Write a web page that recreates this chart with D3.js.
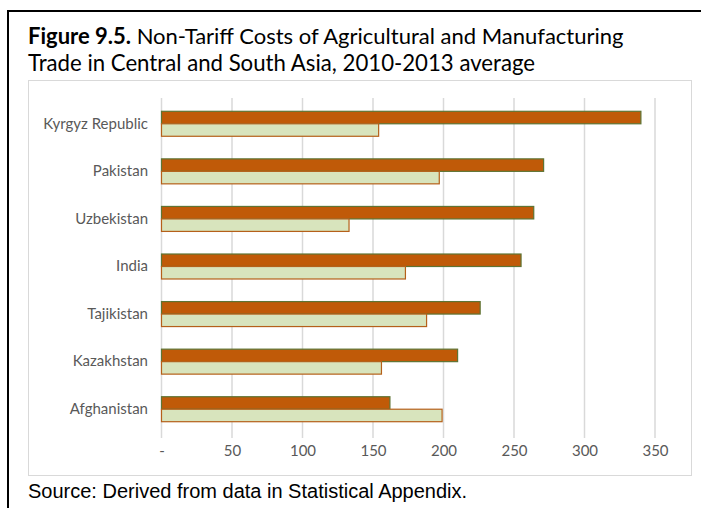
<!DOCTYPE html>
<html>
<head>
<meta charset="utf-8">
<script src="https://cdn.jsdelivr.net/npm/d3@7"></script>
<style>
  html, body { margin: 0; padding: 0; background: #fff; }
  svg { display: block; }
</style>
</head>
<body>
<svg id="chart" width="701" height="508"></svg>
<script>
// Countries, listed top to bottom
const countries = ["Kyrgyz Republic", "Pakistan", "Uzbekistan", "India", "Tajikistan", "Kazakhstan", "Afghanistan"];
// Non-tariff costs (ad valorem equivalent, %), upper bar of each pair
const agricultural = [340, 271, 264, 255, 226, 210, 162];
// Non-tariff costs, lower bar of each pair
const manufacturing = [154, 197, 133, 173, 188, 156, 199];
// Value axis ticks
const tickValues = [0, 50, 100, 150, 200, 250, 300, 350];

const svg = d3.select("#chart");
const W = 701, H = 508;
const labelFont = "Lato, 'Open Sans', sans-serif";

// Outer figure frame (top and left rules)
svg.append("path")
  .attr("d", `M8,${H} L8,11 L${W},11`)
  .attr("fill", "none")
  .attr("stroke", "#000")
  .attr("stroke-width", 2);

// Title
const title = svg.append("text")
  .attr("x", 28).attr("y", 44)
  .attr("font-family", labelFont)
  .attr("font-size", 22)
  .attr("fill", "#000");
title.append("tspan").attr("font-weight", "bold").text("Figure 9.5.");
title.append("tspan").text(" Non-Tariff Costs of Agricultural and Manufacturing");
svg.append("text")
  .attr("x", 28).attr("y", 71)
  .attr("font-family", labelFont)
  .attr("font-size", 22.2)
  .attr("fill", "#000")
  .text("Trade in Central and South Asia, 2010-2013 average");

// Plot area box
svg.append("rect")
  .attr("x", 28.5).attr("y", 80.5)
  .attr("width", 663).attr("height", 395)
  .attr("fill", "#fff")
  .attr("stroke", "#d9d9d9")
  .attr("stroke-width", 1);

// Scales
const x = d3.scaleLinear().domain([0, 350]).range([161.5, 655]);
const y = d3.scaleBand().domain(countries).range([100, 433])
  .paddingInner(0.475).paddingOuter(0.2375);
const barH = y.bandwidth() / 2;

// Vertical gridlines
svg.append("g")
  .selectAll("line")
  .data(tickValues)
  .join("line")
  .attr("x1", d => x(d)).attr("x2", d => x(d))
  .attr("y1", 98).attr("y2", 438)
  .attr("stroke", "#d9d9d9")
  .attr("stroke-width", 1.5);

// Value axis labels
const xAxis = d3.axisBottom(x)
  .tickValues(tickValues)
  .tickSize(0)
  .tickPadding(0)
  .tickFormat(d => d === 0 ? "-" : d3.format("d")(d));
const gx = svg.append("g")
  .attr("transform", "translate(0,445)")
  .call(xAxis);
gx.select(".domain").remove();
gx.selectAll("text")
  .attr("font-family", labelFont)
  .attr("font-size", 15)
  .attr("fill", "#595959")
  .attr("dy", "0.71em");

// Category labels
const yAxis = d3.axisLeft(y).tickSize(0).tickPadding(0);
const gy = svg.append("g")
  .attr("transform", "translate(148,0)")
  .call(yAxis);
gy.select(".domain").remove();
gy.selectAll("text")
  .attr("font-family", labelFont)
  .attr("font-size", 15)
  .attr("fill", "#595959");

// Bars
const rows = countries.map((c, i) => ({ c, a: agricultural[i], m: manufacturing[i] }));
const bars = svg.append("g");
bars.selectAll("rect.agri")
  .data(rows)
  .join("rect")
  .attr("class", "agri")
  .attr("x", x(0))
  .attr("y", d => y(d.c))
  .attr("width", d => x(d.a) - x(0))
  .attr("height", barH)
  .attr("fill", "#c05a08")
  .attr("stroke", "#5e7434")
  .attr("stroke-width", 1.2);
bars.selectAll("rect.manu")
  .data(rows)
  .join("rect")
  .attr("class", "manu")
  .attr("x", x(0))
  .attr("y", d => y(d.c) + barH)
  .attr("width", d => x(d.m) - x(0))
  .attr("height", barH)
  .attr("fill", "#d8e4bd")
  .attr("stroke", "#b5601a")
  .attr("stroke-width", 1.2);

// Source note
svg.append("text")
  .attr("x", 28).attr("y", 498)
  .attr("font-family", "'Liberation Sans', Arial, sans-serif")
  .attr("font-size", 20)
  .attr("fill", "#000")
  .text("Source: Derived from data in Statistical Appendix.");
</script>
</body>
</html>
